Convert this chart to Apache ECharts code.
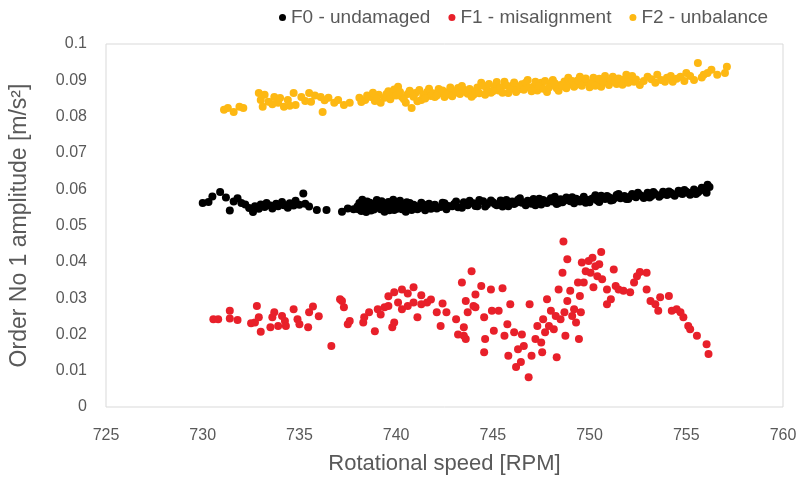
<!DOCTYPE html>
<html>
<head>
<meta charset="utf-8">
<title>Order No 1 amplitude vs rotational speed</title>
<script src="https://cdn.jsdelivr.net/npm/echarts@6/dist/echarts.min.js"></script>
<style>
  html, body { margin: 0; padding: 0; background: #ffffff; }
  #chart { width: 808px; height: 480px; }
</style>
</head>
<body>
<div id="chart"></div>
<script>
// Series names (legend)
const seriesNames = ['F0 - undamaged', 'F1 - misalignment', 'F2 - unbalance'];

// F0 - undamaged: [speed RPM, amplitude m/s²]
const f0Points = [
  [730.0, 0.0562], [730.3, 0.0565], [730.5, 0.0580], [730.9, 0.0592], [731.2, 0.0577],
  [731.4, 0.0541], [731.6, 0.0566], [731.8, 0.0575], [732.0, 0.0562], [732.2, 0.0558],
  [732.4, 0.0548], [732.6, 0.0537], [732.7, 0.0553], [732.9, 0.0546], [733.0, 0.0558],
  [733.2, 0.0551], [733.3, 0.0562], [733.5, 0.0555], [733.6, 0.0547], [733.8, 0.0560],
  [733.9, 0.0553], [734.1, 0.0565], [734.2, 0.0556], [734.4, 0.0549], [734.5, 0.0561],
  [734.7, 0.0555], [734.8, 0.0568], [735.0, 0.0557], [735.2, 0.0588], [735.3, 0.0560],
  [735.5, 0.0552], [735.9, 0.0543], [736.4, 0.0543], [737.2, 0.0538], [737.5, 0.0547],
  [737.8, 0.0545], [738.0, 0.0552], [738.1, 0.0562], [738.2, 0.0540], [738.3, 0.0556],
  [738.4, 0.0548], [738.5, 0.0566], [738.6, 0.0553], [738.7, 0.0541], [738.8, 0.0559],
  [738.9, 0.0549], [739.0, 0.0570], [739.1, 0.0555], [739.2, 0.0545], [739.3, 0.0561],
  [739.4, 0.0538], [739.5, 0.0552], [739.6, 0.0565], [739.7, 0.0547], [739.8, 0.0557],
  [739.9, 0.0543], [740.0, 0.0560], [740.1, 0.0550], [740.2, 0.0568], [740.3, 0.0545],
  [740.4, 0.0556], [740.6, 0.0548], [740.7, 0.0562], [740.8, 0.0543], [741.0, 0.0554],
  [741.2, 0.0548], [741.4, 0.0558], [741.6, 0.0551], [741.8, 0.0546], [742.0, 0.0557],
  [742.3, 0.0551], [742.5, 0.0561], [742.7, 0.0554], [743.0, 0.0559], [743.2, 0.0550],
  [743.5, 0.0564], [743.7, 0.0556], [744.0, 0.0561], [744.2, 0.0553], [744.5, 0.0567],
  [744.7, 0.0558], [745.0, 0.0564], [745.2, 0.0556], [745.4, 0.0569], [745.6, 0.0561],
  [745.8, 0.0553], [746.0, 0.0566], [746.1, 0.0559], [746.3, 0.0571], [746.5, 0.0563],
  [746.7, 0.0556], [746.8, 0.0568], [747.0, 0.0560], [747.1, 0.0573], [747.3, 0.0564],
  [747.5, 0.0558], [747.6, 0.0570], [747.8, 0.0562], [748.0, 0.0575], [748.1, 0.0566],
  [748.3, 0.0559], [748.5, 0.0572], [748.6, 0.0564], [748.8, 0.0577], [749.0, 0.0567],
  [749.2, 0.0561], [749.3, 0.0574], [749.5, 0.0566], [749.7, 0.0579], [749.9, 0.0570],
  [750.0, 0.0564], [750.2, 0.0576], [750.4, 0.0569], [750.6, 0.0582], [750.8, 0.0573],
  [751.0, 0.0578], [751.2, 0.0570], [751.4, 0.0584], [751.6, 0.0575], [751.8, 0.0581],
  [752.0, 0.0573], [752.2, 0.0587], [752.4, 0.0578], [752.6, 0.0584], [752.8, 0.0576],
  [753.0, 0.0590], [753.2, 0.0581], [753.4, 0.0587], [753.6, 0.0579], [753.8, 0.0593],
  [754.0, 0.0584], [754.2, 0.0590], [754.4, 0.0582], [754.6, 0.0596], [754.8, 0.0587],
  [755.0, 0.0593], [755.2, 0.0585], [755.4, 0.0599], [755.6, 0.0591], [755.8, 0.0604],
  [756.0, 0.0597], [756.1, 0.0612], [756.2, 0.0606],
  [738.05, 0.0545], [738.25, 0.0571], [738.45, 0.0537], [738.65, 0.0563], [738.85, 0.0544],
  [739.05, 0.0551], [739.25, 0.0567], [739.45, 0.0558], [739.65, 0.0542], [739.85, 0.0571],
  [740.05, 0.0546], [740.25, 0.0555], [740.5, 0.0538], [740.55, 0.0564], [740.9, 0.0557],
  [741.1, 0.0545], [741.3, 0.0563], [741.5, 0.0542], [741.7, 0.0560], [741.9, 0.0552],
  [742.1, 0.0547], [742.4, 0.0563], [742.6, 0.0545], [742.9, 0.0553], [743.1, 0.0566],
  [743.4, 0.0549], [743.8, 0.0568], [744.1, 0.0554], [744.3, 0.0570], [744.6, 0.0552],
  [744.9, 0.0569], [745.1, 0.0559], [745.5, 0.0552], [745.7, 0.0570], [746.2, 0.0563],
  [746.4, 0.0575], [746.9, 0.0563], [747.2, 0.0556], [747.4, 0.0574], [747.9, 0.0568],
  [748.2, 0.0579], [748.4, 0.0562], [748.7, 0.0569], [749.1, 0.0578], [749.4, 0.0571],
  [749.8, 0.0563], [750.1, 0.0573], [750.3, 0.0583], [750.5, 0.0565], [750.9, 0.0581],
  [751.1, 0.0569], [751.3, 0.0576], [751.5, 0.0587], [751.9, 0.0573], [752.1, 0.0580],
  [752.5, 0.0590], [752.9, 0.0582], [753.1, 0.0577], [753.3, 0.0592], [753.7, 0.0584],
  [754.1, 0.0594], [754.3, 0.0586], [754.7, 0.0589], [754.9, 0.0598], [755.1, 0.0590],
  [755.5, 0.0587], [755.7, 0.0596], [755.9, 0.0601], [756.05, 0.0590]
];

// F1 - misalignment
const f1Points = [
  [730.55, 0.0242], [730.8, 0.0242], [731.4, 0.0265], [731.4, 0.0244], [731.8, 0.0240],
  [732.5, 0.0231], [732.7, 0.0233], [732.8, 0.0278], [732.9, 0.0247], [733.0, 0.0207],
  [733.5, 0.0220], [733.6, 0.0247], [733.7, 0.0261], [733.9, 0.0223], [734.1, 0.0251],
  [734.25, 0.0237], [734.3, 0.0223], [734.7, 0.0269], [734.9, 0.0242], [735.0, 0.0228],
  [735.45, 0.0220], [735.5, 0.0261], [735.7, 0.0277], [736.0, 0.0250], [736.65, 0.0168],
  [737.1, 0.0297], [737.2, 0.0292], [737.3, 0.0275], [737.5, 0.0228], [737.6, 0.0237],
  [738.3, 0.0233], [738.35, 0.0247], [738.6, 0.0261], [738.9, 0.0209], [739.05, 0.0269],
  [739.2, 0.0255], [739.4, 0.0275], [739.6, 0.0278], [739.6, 0.0305], [739.8, 0.0220],
  [739.9, 0.0233], [739.9, 0.0316], [740.1, 0.0288], [740.3, 0.0269], [740.3, 0.0324],
  [740.6, 0.0278], [740.6, 0.0313], [740.9, 0.0288], [740.9, 0.0330], [741.1, 0.0247],
  [741.3, 0.0283], [741.3, 0.0308], [741.6, 0.0288], [741.8, 0.0296], [742.1, 0.0261],
  [742.3, 0.0223], [742.4, 0.0285], [742.6, 0.0261], [743.1, 0.0242], [743.2, 0.0200],
  [743.4, 0.0343], [743.5, 0.0196], [743.5, 0.0220], [743.6, 0.0187], [743.6, 0.0292],
  [743.7, 0.0261], [743.9, 0.0374], [744.0, 0.0278], [744.1, 0.0310], [744.1, 0.0275],
  [744.4, 0.0333], [744.55, 0.0247], [744.6, 0.0187], [744.55, 0.0151], [744.9, 0.0324],
  [744.95, 0.0265], [745.05, 0.0210], [745.3, 0.0265], [745.5, 0.0327], [745.6, 0.0196],
  [745.75, 0.0228], [745.8, 0.0141], [745.9, 0.0283], [746.1, 0.0206], [746.2, 0.0110],
  [746.3, 0.0159], [746.45, 0.0124], [746.5, 0.0200], [746.6, 0.0168], [746.9, 0.0283],
  [746.85, 0.0082], [747.0, 0.0141], [747.2, 0.0187], [747.3, 0.0223], [747.5, 0.0178],
  [747.55, 0.0151], [747.6, 0.0242], [747.7, 0.0206], [747.8, 0.0297], [747.9, 0.0223],
  [748.0, 0.0265], [748.15, 0.0214], [748.25, 0.0251], [748.3, 0.0137], [748.4, 0.0324],
  [748.5, 0.0242], [748.6, 0.0370], [748.65, 0.0456], [748.7, 0.0261], [748.75, 0.0196],
  [748.85, 0.0407], [748.85, 0.0292], [749.0, 0.0320], [749.1, 0.0251], [749.2, 0.0269],
  [749.3, 0.0233], [749.4, 0.0343], [749.45, 0.0187], [749.5, 0.0306], [749.55, 0.0261],
  [749.6, 0.0398], [749.7, 0.0343], [749.8, 0.0374], [749.95, 0.0402], [750.05, 0.0370],
  [750.15, 0.0411], [750.2, 0.0330], [750.3, 0.0388], [750.4, 0.0360], [750.5, 0.0393],
  [750.6, 0.0427], [750.65, 0.0352], [750.9, 0.0324], [750.9, 0.0283], [751.1, 0.0297],
  [751.25, 0.0379], [751.35, 0.0333], [751.5, 0.0324], [751.75, 0.0320], [752.1, 0.0316],
  [752.3, 0.0343], [752.45, 0.0360], [752.6, 0.0372], [752.95, 0.0370], [752.95, 0.0324],
  [753.15, 0.0292], [753.4, 0.0283], [753.55, 0.0265], [753.65, 0.0302], [754.1, 0.0306],
  [754.25, 0.0265], [754.5, 0.0269], [754.7, 0.0261], [754.85, 0.0247], [755.1, 0.0223],
  [755.2, 0.0214], [755.55, 0.0196], [756.05, 0.0173], [756.15, 0.0146]
];

// F2 - unbalance
const f2Points = [
  [731.3, 0.0824], [731.6, 0.0813], [731.9, 0.0827], [732.1, 0.0824], [732.9, 0.0865],
  [733.0, 0.0846], [733.1, 0.0827], [733.4, 0.0841], [733.7, 0.0854], [733.9, 0.0838],
  [734.2, 0.0827], [734.4, 0.0846], [734.7, 0.0865], [734.8, 0.0832], [735.1, 0.0854],
  [735.5, 0.0865], [735.6, 0.0841], [736.1, 0.0854], [736.2, 0.0813], [736.5, 0.0852],
  [736.8, 0.0838], [737.3, 0.0832], [738.1, 0.0852], [738.4, 0.0846], [738.7, 0.0854],
  [738.9, 0.0843], [739.1, 0.0860], [739.4, 0.0852], [739.6, 0.0870], [739.8, 0.0865],
  [740.1, 0.0882], [740.3, 0.0854], [740.5, 0.0838], [740.6, 0.0862], [740.8, 0.0824],
  [741.0, 0.0865], [741.2, 0.0873], [741.3, 0.0846], [741.6, 0.0868], [741.8, 0.0857],
  [742.0, 0.0854], [742.2, 0.0876], [742.3, 0.0865], [742.5, 0.0854], [742.7, 0.0868],
  [743.0, 0.0865], [743.2, 0.0879], [743.5, 0.0874], [743.7, 0.0863], [744.0, 0.0860],
  [744.2, 0.0880], [744.4, 0.0893], [744.7, 0.0874], [744.9, 0.0866], [745.1, 0.0882],
  [745.3, 0.0872], [745.6, 0.0896], [745.8, 0.0865], [746.0, 0.0885], [746.3, 0.0874],
  [746.5, 0.0889], [746.8, 0.0901], [747.1, 0.0882], [747.3, 0.0872], [747.5, 0.0893],
  [747.8, 0.0868], [748.0, 0.0887], [748.1, 0.0901], [748.3, 0.0878], [748.5, 0.0887],
  [748.7, 0.0897], [748.9, 0.0907], [749.0, 0.0889], [749.2, 0.0882], [749.5, 0.0910],
  [749.7, 0.0898], [749.9, 0.0893], [750.0, 0.0881], [750.2, 0.0907], [750.4, 0.0899],
  [750.6, 0.0882], [750.9, 0.0896], [751.2, 0.0910], [751.4, 0.0890], [751.6, 0.0893],
  [751.9, 0.0915], [752.1, 0.0904], [752.3, 0.0896], [752.6, 0.0887], [753.0, 0.0910],
  [753.5, 0.0915], [753.7, 0.0901], [754.0, 0.0907], [754.3, 0.0896], [754.7, 0.0910],
  [755.0, 0.0920], [755.4, 0.0901], [755.6, 0.0948], [755.9, 0.0915], [756.3, 0.0929],
  [756.6, 0.0915], [757.0, 0.0920], [757.1, 0.0937],
  [731.1, 0.0819], [733.2, 0.0860], [733.6, 0.0834], [734.0, 0.0851], [734.5, 0.0830],
  [735.3, 0.0843], [735.8, 0.0858], [736.3, 0.0845], [737.0, 0.0846], [737.6, 0.0838],
  [738.2, 0.0840], [738.5, 0.0858], [738.8, 0.0866], [739.0, 0.0849], [739.2, 0.0838],
  [739.5, 0.0862], [739.7, 0.0848], [739.9, 0.0875], [740.0, 0.0858], [740.2, 0.0868],
  [740.4, 0.0848], [740.7, 0.0871], [740.9, 0.0855], [741.1, 0.0842], [741.4, 0.0860],
  [741.5, 0.0850], [741.7, 0.0877], [741.9, 0.0864], [742.1, 0.0858], [742.4, 0.0872],
  [742.6, 0.0860], [742.8, 0.0880], [742.9, 0.0856], [743.1, 0.0870], [743.3, 0.0862],
  [743.4, 0.0884], [743.6, 0.0868], [743.8, 0.0876], [743.9, 0.0855], [744.1, 0.0870],
  [744.3, 0.0864], [744.5, 0.0885], [744.6, 0.0860], [744.8, 0.0890], [745.0, 0.0870],
  [745.2, 0.0895], [745.4, 0.0880], [745.5, 0.0866], [745.7, 0.0886], [745.9, 0.0876],
  [746.1, 0.0894], [746.2, 0.0868], [746.4, 0.0882], [746.6, 0.0874], [746.7, 0.0893],
  [746.9, 0.0880], [747.0, 0.0870], [747.2, 0.0896], [747.4, 0.0884], [747.6, 0.0877],
  [747.7, 0.0898], [747.9, 0.0880], [748.2, 0.0892], [748.4, 0.0871], [748.6, 0.0884],
  [748.8, 0.0878], [749.1, 0.0898], [749.3, 0.0888], [749.4, 0.0900], [749.6, 0.0885],
  [749.8, 0.0905], [750.1, 0.0890], [750.3, 0.0885], [750.5, 0.0904], [750.7, 0.0895],
  [750.8, 0.0912], [751.0, 0.0887], [751.1, 0.0900], [751.3, 0.0895], [751.5, 0.0905],
  [751.7, 0.0888], [751.8, 0.0902], [752.0, 0.0893], [752.2, 0.0912], [752.4, 0.0902],
  [752.8, 0.0898], [753.2, 0.0903], [753.4, 0.0893], [753.9, 0.0896], [754.2, 0.0912],
  [754.5, 0.0904], [754.9, 0.0898], [755.2, 0.0912], [755.8, 0.0908], [756.1, 0.0920]
];

// Axis ticks
const xMin = 725, xMax = 760, xStep = 5;
const yMin = 0, yMax = 0.1, yStep = 0.01;

const textColor = '#595959';
const fontFamily = '"Liberation Sans", Arial, sans-serif';

const chart = echarts.init(document.getElementById('chart'), null, { renderer: 'canvas' });

const scatter = (name, data, color) => ({
  name: name,
  type: 'scatter',
  data: data,
  symbol: 'circle',
  symbolSize: 8,
  itemStyle: { color: color, opacity: 1 },
  emphasis: { disabled: true }
});

chart.setOption({
  animation: false,
  backgroundColor: '#ffffff',
  textStyle: { fontFamily: fontFamily },
  legend: {
    top: 8,
    left: 279,
    width: 520,
    padding: 0,
    itemWidth: 7,
    itemHeight: 7,
    itemGap: 18,
    icon: 'circle',
    textStyle: { fontSize: 19, color: textColor, fontFamily: fontFamily },
    data: seriesNames
  },
  grid: {
    left: 104,
    right: 25,
    top: 44,
    bottom: 72,
    show: true,
    borderColor: '#d9d9d9',
    borderWidth: 1,
    backgroundColor: 'transparent'
  },
  xAxis: {
    type: 'value',
    min: xMin,
    max: xMax,
    interval: xStep,
    name: 'Rotational speed [RPM]',
    nameLocation: 'middle',
    nameGap: 46,
    nameTextStyle: { fontSize: 22, color: textColor, fontFamily: fontFamily },
    axisLine: { show: false },
    axisTick: { show: false },
    splitLine: { show: false },
    axisLabel: { fontSize: 16, color: textColor, margin: 21, fontFamily: fontFamily }
  },
  yAxis: {
    type: 'value',
    min: yMin,
    max: yMax,
    interval: yStep,
    name: 'Order No 1 amplitude [m/s²]',
    nameLocation: 'middle',
    nameRotate: 90,
    nameGap: 75,
    nameTextStyle: { fontSize: 23, color: textColor, fontFamily: fontFamily },
    axisLine: { show: false },
    axisTick: { show: false },
    splitLine: { show: false },
    axisLabel: {
      fontSize: 16,
      color: textColor,
      margin: 19,
      fontFamily: fontFamily,
      formatter: v => (Math.round(v * 100) / 100).toString()
    }
  },
  series: [
    scatter(seriesNames[0], f0Points, '#000000'),
    scatter(seriesNames[1], f1Points, '#e8202a'),
    scatter(seriesNames[2], f2Points, '#fdb813')
  ]
});
</script>
</body>
</html>
